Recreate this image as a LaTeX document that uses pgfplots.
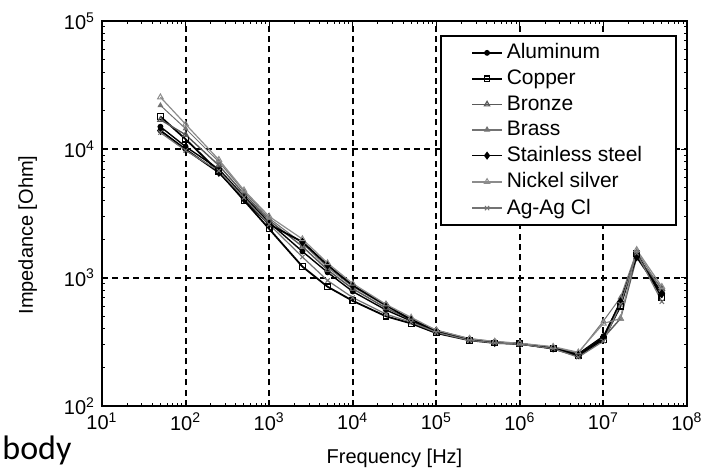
\documentclass[border=0pt]{standalone}
\usepackage{fontspec}
\setmainfont{Liberation Sans}
\newfontfamily\bodyfont{Carlito}
\usepackage{pgfplots}
\pgfplotsset{compat=1.18}

\begin{document}
\begin{tikzpicture}
\useasboundingbox (0,0) rectangle (352.5pt,235.5pt);
\begin{axis}[
  at={(51pt,32.5pt)}, anchor=south west,
  scale only axis,
  width=292.5pt, height=192.5pt,
  xmode=log, ymode=log,
  xmin=10, xmax=1e8, ymin=100, ymax=1e5,
  xtick={1e1,1e2,1e3,1e4,1e5,1e6,1e7,1e8},
  xticklabels={10\textsuperscript{1},10\textsuperscript{2},10\textsuperscript{3},10\textsuperscript{4},10\textsuperscript{5},10\textsuperscript{6},10\textsuperscript{7},10\textsuperscript{8}},
  ytick={1e2,1e3,1e4,1e5},
  yticklabels={10\textsuperscript{2},10\textsuperscript{3},10\textsuperscript{4},10\textsuperscript{5}},
  ticklabel style={font=\fontsize{10}{12}\selectfont},
  major tick length=3pt, minor tick length=1.6pt,
  axis line style={line width=0.9pt},
  every tick/.style={black, line width=0.5pt},
  grid=major,
  major grid style={black, line width=1pt, dash pattern=on 3pt off 2.2pt},
  xlabel={Frequency [Hz]},
  ylabel={Impedance [Ohm]},
  label style={font=\fontsize{10}{12}\selectfont},
  xlabel style={at={(axis description cs:0.5,-0.135)}, anchor=center},
  ylabel style={at={(axis description cs:-0.127,0.444)}, anchor=center, rotate=0},
  legend cell align=left,
  legend style={at={(axis description cs:0.983,0.964)}, anchor=north east,
    font=\fontsize{10.5}{12}\selectfont, draw=black, line width=0.9pt,
    inner xsep=15pt, inner ysep=2pt, row sep=0pt},
  legend image code/.code={\draw[mark repeat=2,mark phase=2,line width=0.7pt] plot coordinates {(0pt,0pt)(7.5pt,0pt)(15pt,0pt)};},
]
% Aluminum
\addplot[black, line width=0.7pt, mark=*, mark size=1.1pt] coordinates {
(50,15000)(100,10500)(250,7000)(500,4300)(1000,2700)(2500,1600)(5000,1100)(10000,780)
(25000,560)(50000,460)(1e5,380)(2.5e5,330)(5e5,315)(1e6,305)(2.5e6,285)(5e6,255)
(1e7,350)(1.6e7,640)(2.5e7,1500)(5e7,760)};
% Copper
\addplot[black, line width=0.9pt, mark=square, mark size=1.4pt, mark options={solid, line width=0.6pt}] coordinates {
(50,18000)(100,12000)(250,6700)(500,4000)(1000,2400)(2500,1220)(5000,850)(10000,660)
(25000,500)(50000,440)(1e5,370)(2.5e5,325)(5e5,310)(1e6,305)(2.5e6,280)(5e6,245)
(1e7,330)(1.6e7,600)(2.5e7,1550)(5e7,700)};
% Bronze
\addplot[black!65, line width=0.7pt, mark=triangle, mark size=1.5pt, mark options={line width=0.6pt}] coordinates {
(50,17000)(100,13000)(250,7500)(500,4500)(1000,2800)(2500,1750)(5000,1150)(10000,820)
(25000,580)(50000,470)(1e5,385)(2.5e5,330)(5e5,315)(1e6,305)(2.5e6,285)(5e6,250)
(1e7,340)(1.6e7,480)(2.5e7,1450)(5e7,820)};
% Brass
\addplot[black!55, line width=0.5pt, mark=triangle*, mark size=1.2pt] coordinates {
(50,22000)(100,14500)(250,8000)(500,4700)(1000,2900)(2500,1850)(5000,1200)(10000,850)
(25000,600)(50000,480)(1e5,390)(2.5e5,335)(5e5,318)(1e6,308)(2.5e6,288)(5e6,258)
(1e7,460)(1.6e7,700)(2.5e7,1600)(5e7,800)};
% Stainless steel
\addplot[black, line width=0.9pt, mark=diamond*, mark size=1.5pt] coordinates {
(50,14000)(100,10000)(250,6600)(500,4100)(1000,2600)(2500,1900)(5000,1250)(10000,870)
(25000,610)(50000,470)(1e5,385)(2.5e5,330)(5e5,312)(1e6,305)(2.5e6,282)(5e6,250)
(1e7,340)(1.6e7,650)(2.5e7,1450)(5e7,750)};
% Nickel silver
\addplot[black!45, line width=0.6pt, mark=triangle, mark size=1.6pt, mark options={line width=0.5pt}] coordinates {
(50,25500)(100,15700)(250,8300)(500,4800)(1000,3000)(2500,2000)(5000,1300)(10000,900)
(25000,620)(50000,490)(1e5,390)(2.5e5,335)(5e5,318)(1e6,308)(2.5e6,290)(5e6,262)
(1e7,440)(1.6e7,480)(2.5e7,1650)(5e7,850)};
% Ag-AgCl
\addplot[black!55, line width=0.6pt, mark=x, mark size=1.5pt, mark options={line width=0.5pt}] coordinates {
(50,13500)(100,9800)(250,6800)(500,4200)(1000,2600)(2500,1450)(5000,950)(10000,700)
(25000,520)(50000,450)(1e5,375)(2.5e5,325)(5e5,310)(1e6,303)(2.5e6,280)(5e6,240)
(1e7,320)(1.6e7,620)(2.5e7,1550)(5e7,650)};
\legend{Aluminum, Copper, Bronze, Brass, Stainless steel, Nickel silver, Ag-Ag Cl}
\end{axis}
\node[anchor=base west, inner sep=0pt, font=\bodyfont\fontsize{17}{20}\selectfont] at (1pt,6pt) {body};
\end{tikzpicture}
\end{document}
